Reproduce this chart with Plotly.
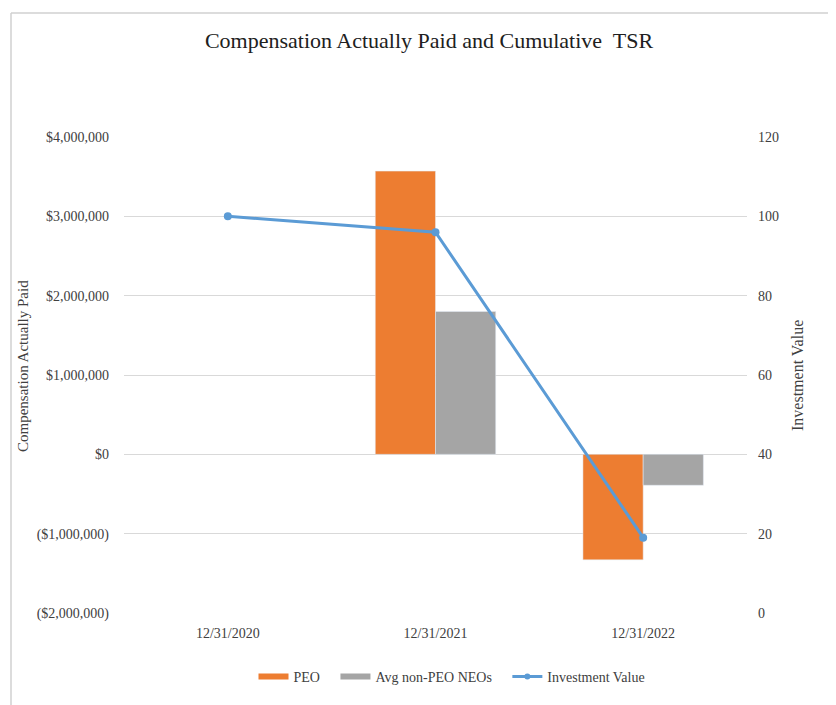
import plotly.graph_objects as go

categories = ["12/31/2020", "12/31/2021", "12/31/2022"]
peo_cap = [None, 3570000, -1330000]
non_peo_cap = [None, 1800000, -390000]
investment_value = [100, 96, 19]

left_tickvals = [-2000000, -1000000, 0, 1000000, 2000000, 3000000, 4000000]
left_ticktext = ["($2,000,000)", "($1,000,000)", "$0", "$1,000,000", "$2,000,000", "$3,000,000", "$4,000,000"]
right_tickvals = [0, 20, 40, 60, 80, 100, 120]

FONT = "Liberation Serif, Times New Roman, serif"
GRID = "#d9d9d9"
TXT = "#404040"
ORANGE = "#ED7D31"
GRAY = "#A5A5A5"
BLUE = "#5B9BD5"
PAD = "\u00a0" * 3

# page offset of the figure (browser body margin)
OFF = 8
# desired plot area in page pixels
PL, PR, PT, PB = 124, 747, 137, 613
PW, PH = PR - PL, PB - PT


def px(xp):
    return (xp - PL) / PW


def py(yp):
    return (PB - yp) / PH


fig = go.Figure()
fig.add_trace(go.Bar(x=categories, y=peo_cap, name="PEO", marker_color=ORANGE, showlegend=False))
fig.add_trace(go.Bar(x=categories, y=non_peo_cap, name="Avg non-PEO NEOs", marker_color=GRAY, showlegend=False))
fig.add_trace(go.Scatter(x=categories, y=investment_value, name="Investment Value", yaxis="y2",
                         mode="lines+markers", line=dict(color=BLUE, width=3),
                         marker=dict(color=BLUE, size=8), showlegend=False))

# legend entries (wide swatches like the original)
fig.add_trace(go.Scatter(x=[None], y=[None], name="PEO" + PAD, mode="lines",
                         line=dict(color=ORANGE, width=6)))
fig.add_trace(go.Scatter(x=[None], y=[None], name="Avg non-PEO NEOs" + PAD, mode="lines",
                         line=dict(color=GRAY, width=6)))
fig.add_trace(go.Scatter(x=[None], y=[None], name="Investment Value", mode="lines+markers",
                         line=dict(color=BLUE, width=3), marker=dict(color=BLUE, size=6)))

fig.update_layout(
    width=836, height=705,
    margin=dict(l=PL - OFF, r=836 + OFF - PR, t=PT - OFF, b=705 + OFF - PB),
    paper_bgcolor="white", plot_bgcolor="white",
    font=dict(family=FONT, size=14, color=TXT),
    barmode="group", bargap=0.42, bargroupgap=0,
    title=dict(text="Compensation Actually Paid and Cumulative  TSR", x=(429 - OFF) / 836, xanchor="center",
               y=1 - (40 - OFF) / 705, yanchor="middle", yref="container", xref="container",
               font=dict(family=FONT, size=22, color="#202020")),
    xaxis=dict(type="category", showgrid=False, showline=False, ticks="",
               tickfont=dict(size=14, color=TXT), ticklabelstandoff=10),
    yaxis=dict(range=[-2000000, 4000000], tickvals=left_tickvals, ticktext=left_ticktext,
               showgrid=True, gridcolor=GRID, gridwidth=1, zeroline=False, showline=False,
               tickfont=dict(size=14, color=TXT), ticklabelstandoff=14),
    yaxis2=dict(range=[0, 120], tickvals=right_tickvals, overlaying="y", side="right",
                showgrid=False, zeroline=False, showline=False,
                tickfont=dict(size=14, color=TXT), ticklabelstandoff=10),
    legend=dict(orientation="h", x=px(452), xanchor="center", y=py(677), yanchor="middle",
                font=dict(size=14, color=TXT), bgcolor="rgba(0,0,0,0)", itemwidth=30,
                tracegroupgap=0),
    showlegend=True,
)

fig.add_annotation(text="Compensation Actually Paid", textangle=-90, xref="paper", yref="paper",
                   x=px(23), y=py(366), xanchor="center", yanchor="middle",
                   showarrow=False, font=dict(family=FONT, size=15, color=TXT))
fig.add_annotation(text="Investment Value", textangle=-90, xref="paper", yref="paper",
                   x=px(797), y=py(376), xanchor="center", yanchor="middle",
                   showarrow=False, font=dict(family=FONT, size=16, color=TXT))

# chart frame (left and top edges visible)
fig.add_shape(type="line", xref="paper", yref="paper", x0=px(11), x1=px(11),
              y0=py(720), y1=py(13), line=dict(color="#d0d0d0", width=1.5))
fig.add_shape(type="line", xref="paper", yref="paper", x0=px(11), x1=px(850),
              y0=py(13), y1=py(13), line=dict(color="#d0d0d0", width=1.5))

fig.write_html("out.html")
